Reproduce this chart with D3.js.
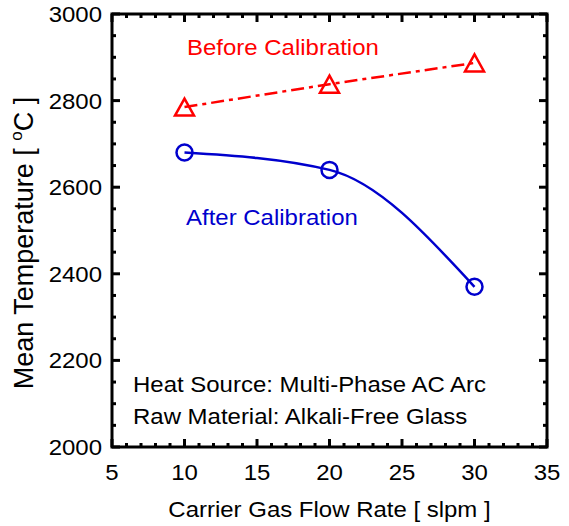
<!DOCTYPE html>
<html>
<head>
<meta charset="utf-8">
<script src="https://cdn.jsdelivr.net/npm/d3@7"></script>
<style>
  html, body { margin: 0; padding: 0; background: #fff; }
  svg { display: block; font-family: "Liberation Sans", Arial, sans-serif; }
</style>
</head>
<body>
<svg id="chart" width="569" height="526"></svg>
<script>
// ---- data ----
const flowRates = [10, 20, 30];
const beforeCalibration = [2785, 2838, 2887];
const afterCalibration = [2680, 2640, 2370];
const xTicks = [5, 10, 15, 20, 25, 30, 35];
const yTicks = [2000, 2200, 2400, 2600, 2800, 3000];
const xLabel = "Carrier Gas Flow Rate [ slpm ]";
const annotations = ["Heat Source: Multi-Phase AC Arc", "Raw Material: Alkali-Free Glass"];

const svg = d3.select("#chart");
const L = 112, R = 547, T = 14, B = 447;
const x = d3.scaleLinear().domain([5, 35]).range([L, R]);
const y = d3.scaleLinear().domain([2000, 3000]).range([B, T]);
const SX = 1.09; // horizontal text stretch
const FS = 22;

// ticks
const xMinor = d3.range(5, 35.01, 1);
const yMinor = d3.range(2000, 3000.01, 50);
const tickG = svg.append("g").attr("stroke", "#000").attr("stroke-width", 3);
xMinor.forEach(v => {
  const major = xTicks.includes(v);
  const len = major ? 8 : 4;
  tickG.append("line").attr("x1", x(v)).attr("x2", x(v)).attr("y1", B).attr("y2", B - len);
  tickG.append("line").attr("x1", x(v)).attr("x2", x(v)).attr("y1", T).attr("y2", T + len);
});
yMinor.forEach(v => {
  const major = yTicks.includes(v);
  const len = major ? 8 : 4;
  tickG.append("line").attr("y1", y(v)).attr("y2", y(v)).attr("x1", L).attr("x2", L + len);
  tickG.append("line").attr("y1", y(v)).attr("y2", y(v)).attr("x1", R).attr("x2", R - len);
});

// frame
svg.append("rect").attr("x", L).attr("y", T).attr("width", R - L).attr("height", B - T)
  .attr("fill", "none").attr("stroke", "#000").attr("stroke-width", 3);

// tick labels
xTicks.forEach(v => {
  svg.append("text").attr("transform", `translate(${x(v)},480) scale(${SX},1)`)
    .attr("text-anchor", "middle").attr("font-size", FS).attr("fill", "#000").text(v);
});
yTicks.forEach(v => {
  svg.append("text").attr("transform", `translate(102,${y(v) + 8}) scale(${SX},1)`)
    .attr("text-anchor", "end").attr("font-size", FS).attr("fill", "#000").text(v);
});

// axis labels
svg.append("text").attr("transform", `translate(${(L + R) / 2},517) scale(${SX},1)`)
  .attr("text-anchor", "middle").attr("font-size", FS).attr("fill", "#000").text(xLabel);

const yl = svg.append("text").attr("transform", `translate(33,243) rotate(-90)`)
  .attr("text-anchor", "middle").attr("font-size", 27).attr("fill", "#000");
yl.append("tspan").text("Mean Temperature [ ");
yl.append("tspan").attr("font-size", 17).attr("dy", -11).text("o");
yl.append("tspan").attr("dy", 11).text("C ]");

// lines
const pts = (vals) => flowRates.map((f, i) => [f, vals[i]]);
const lineLin = d3.line().x(d => x(d[0])).y(d => y(d[1]));
const lineSmooth = d3.line().x(d => x(d[0])).y(d => y(d[1])).curve(d3.curveMonotoneX);

svg.append("path").attr("d", lineLin(pts(beforeCalibration)))
  .attr("fill", "none").attr("stroke", "#ff0000").attr("stroke-width", 2.5)
  .attr("stroke-dasharray", "13,5,4,5");
svg.append("path").attr("d", lineSmooth(pts(afterCalibration)))
  .attr("fill", "none").attr("stroke", "#0000cd").attr("stroke-width", 2.5);

// markers
const tw = 19, th = 17;
pts(beforeCalibration).forEach(d => {
  const cx = x(d[0]), cy = y(d[1]);
  svg.append("path")
    .attr("d", `M${cx},${cy - th / 2}L${cx + tw / 2},${cy + th / 2}L${cx - tw / 2},${cy + th / 2}Z`)
    .attr("fill", "none").attr("stroke", "#ff0000").attr("stroke-width", 2.5);
});
pts(afterCalibration).forEach(d => {
  svg.append("circle").attr("cx", x(d[0])).attr("cy", y(d[1])).attr("r", 8)
    .attr("fill", "none").attr("stroke", "#0000cd").attr("stroke-width", 2.5);
});

// series labels
svg.append("text").attr("transform", `translate(187,55) scale(${SX},1)`)
  .attr("font-size", FS).attr("fill", "#ff0000").text("Before Calibration");
svg.append("text").attr("transform", `translate(186,225) scale(${SX},1)`)
  .attr("font-size", FS).attr("fill", "#0000cd").text("After Calibration");

// annotations
annotations.forEach((t, i) => {
  svg.append("text").attr("transform", `translate(133,${392 + i * 31.5}) scale(${SX},1)`)
    .attr("font-size", FS).attr("fill", "#000").text(t);
});
</script>
</body>
</html>
